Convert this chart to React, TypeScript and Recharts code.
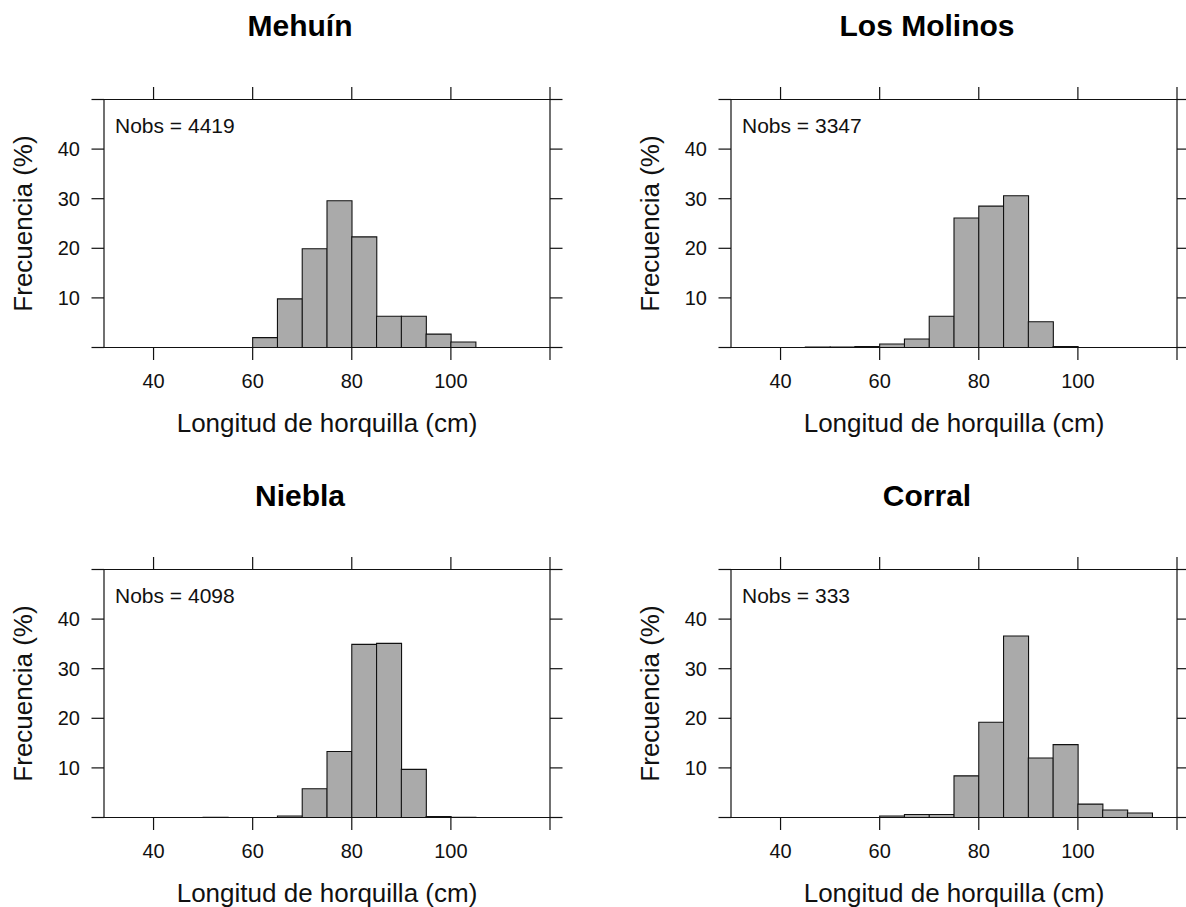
import React from 'react';
import { BarChart, Bar, XAxis, YAxis } from 'recharts';

// Histogram bins (5 cm wide) – centers from 32.5 to 117.5
const binCenters = [32.5, 37.5, 42.5, 47.5, 52.5, 57.5, 62.5, 67.5, 72.5, 77.5, 82.5, 87.5, 92.5, 97.5, 102.5, 107.5, 112.5, 117.5];

const xTicks = [40, 60, 80, 100, 120];
const xLabeledTicks = [40, 60, 80, 100];
const yTicks = [0, 10, 20, 30, 40, 50];
const yLabeledTicks = [10, 20, 30, 40];

const mehuinFreq = [0, 0, 0, 0, 0, 0, 2.0, 9.8, 19.9, 29.6, 22.3, 6.3, 6.3, 2.7, 1.1, 0, 0, 0];
const molinosFreq = [0, 0, 0, 0.1, 0.1, 0.2, 0.7, 1.7, 6.3, 26.1, 28.5, 30.6, 5.2, 0.2, 0, 0, 0, 0];
const nieblaFreq = [0, 0, 0, 0, 0.05, 0, 0, 0.3, 5.8, 13.3, 34.9, 35.1, 9.7, 0.2, 0.05, 0, 0, 0];
const corralFreq = [0, 0, 0, 0, 0, 0, 0.3, 0.6, 0.6, 8.4, 19.2, 36.6, 12.0, 14.7, 2.7, 1.5, 0.9, 0];

const titles = ['Mehuín', 'Los Molinos', 'Niebla', 'Corral'];
const nobsValues = [4419, 3347, 4098, 333];
const xAxisTitle = 'Longitud de horquilla (cm)';
const yAxisTitle = 'Frecuencia (%)';

const FONT = '"Liberation Sans", Arial, Helvetica, sans-serif';
const PW = 446;
const PH = 248;
const LINE = '#111';
const AX = 20; // reserved axis size (px) subtracted from margins

type PanelProps = {
  freq: number[];
  plotLeft: number;
  plotTop: number;
  chartLeft: number;
  chartTop: number;
  chartWidth: number;
  chartHeight: number;
};

function Panel({ freq, plotLeft, plotTop, chartLeft, chartTop, chartWidth, chartHeight }: PanelProps) {
  const data = binCenters.map((x, i) => ({ x, f: freq[i] }));
  const margin = {
    left: plotLeft - chartLeft - AX,
    top: plotTop - chartTop - AX,
    right: chartLeft + chartWidth - (plotLeft + PW) - AX,
    bottom: chartTop + chartHeight - (plotTop + PH) - AX,
  };
  const axisLine = { stroke: LINE, strokeWidth: 1.2 };
  const tickLine = { stroke: LINE, strokeWidth: 1.2 };
  const tickStyle = { fill: '#111', fontSize: 20, fontFamily: FONT };
  const blank = () => '';
  return (
    <div style={{ position: 'absolute', left: chartLeft, top: chartTop }}>
      <BarChart width={chartWidth} height={chartHeight} data={data} margin={margin} barCategoryGap={0} barGap={0}>
        <XAxis
          xAxisId="b"
          dataKey="x"
          type="number"
          domain={[30, 120]}
          allowDataOverflow
          ticks={xTicks}
          interval={0}
          height={AX}
          tickSize={12.5}
          tickMargin={14}
          tick={tickStyle}
          tickFormatter={(v: number) => (xLabeledTicks.includes(v) ? String(v) : '')}
          axisLine={axisLine}
          tickLine={tickLine}
        />
        <XAxis
          xAxisId="t"
          orientation="top"
          dataKey="x"
          type="number"
          domain={[30, 120]}
          allowDataOverflow
          ticks={xTicks}
          interval={0}
          height={AX}
          tickSize={12.5}
          tick={tickStyle}
          tickFormatter={blank}
          axisLine={axisLine}
          tickLine={tickLine}
        />
        <YAxis
          yAxisId="l"
          type="number"
          domain={[0, 50]}
          allowDataOverflow
          ticks={yTicks}
          interval={0}
          width={AX}
          tickSize={12.5}
          tickMargin={11.5}
          tick={tickStyle}
          tickFormatter={(v: number) => (yLabeledTicks.includes(v) ? String(v) : '')}
          axisLine={axisLine}
          tickLine={tickLine}
        />
        <YAxis
          yAxisId="r"
          orientation="right"
          type="number"
          domain={[0, 50]}
          allowDataOverflow
          ticks={yTicks}
          interval={0}
          width={AX}
          tickSize={12.5}
          tick={tickStyle}
          tickFormatter={blank}
          axisLine={axisLine}
          tickLine={tickLine}
        />
        <Bar
          xAxisId="b"
          yAxisId="l"
          dataKey="f"
          fill="#aaaaaa"
          stroke="#111"
          strokeWidth={1.1}
          isAnimationActive={false}
        />
      </BarChart>
    </div>
  );
}

const panels = [
  { freq: mehuinFreq, plotLeft: 104, plotTop: 99.5, chartLeft: 0, chartTop: 0, chartWidth: 593, chartHeight: 470 },
  { freq: molinosFreq, plotLeft: 731, plotTop: 99.5, chartLeft: 593, chartTop: 0, chartWidth: 593, chartHeight: 470 },
  { freq: nieblaFreq, plotLeft: 104, plotTop: 569.5, chartLeft: 0, chartTop: 470, chartWidth: 593, chartHeight: 437 },
  { freq: corralFreq, plotLeft: 731, plotTop: 569.5, chartLeft: 593, chartTop: 470, chartWidth: 593, chartHeight: 437 },
];

export default function App() {
  return (
    <div
      style={{
        position: 'absolute',
        left: 0,
        top: 0,
        width: 1186,
        height: 907,
        overflow: 'hidden',
        background: '#fff',
        fontFamily: FONT,
      }}
    >
      {panels.map((p, i) => (
        <Panel key={i} {...p} />
      ))}
      <svg
        width={1186}
        height={907}
        style={{ position: 'absolute', left: 0, top: 0, pointerEvents: 'none' }}
      >
        {panels.map((p, i) => {
          const cx = p.plotLeft + PW / 2;
          const cy = p.plotTop + PH / 2;
          return (
            <g key={i} fontFamily={FONT} fill="#111">
              <text x={cx - 27} y={p.plotTop - 63.5} textAnchor="middle" fontSize={30} fontWeight="bold" fill="#000">
                {titles[i]}
              </text>
              <text x={p.plotLeft + 11} y={p.plotTop + 33} fontSize={21}>
                {`Nobs = ${nobsValues[i]}`}
              </text>
              <text x={cx} y={p.plotTop + PH + 84} textAnchor="middle" fontSize={26}>
                {xAxisTitle}
              </text>
              <text
                x={p.plotLeft - 72.5}
                y={cy}
                textAnchor="middle"
                fontSize={26}
                transform={`rotate(-90 ${p.plotLeft - 72.5} ${cy})`}
              >
                {yAxisTitle}
              </text>
            </g>
          );
        })}
      </svg>
    </div>
  );
}
